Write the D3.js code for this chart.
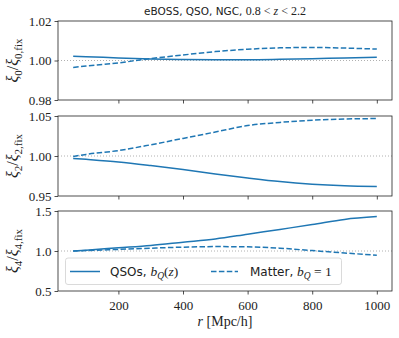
<!DOCTYPE html>
<html><head><meta charset="utf-8">
<script src="https://cdn.jsdelivr.net/npm/d3@7"></script>
<style>body{margin:0;background:#fff}svg{display:block}</style>
</head><body>
<script>
const r = [60,100,200,300,400,500,600,700,800,900,1000];
const xi0_qso = [1.0021,1.0019,1.0013,1.0008,1.0005,1.0004,1.0004,1.0006,1.0009,1.0013,1.0016];
const xi0_mat = [0.9965,0.9972,0.9988,1.0010,1.0028,1.0045,1.0057,1.0064,1.0066,1.0063,1.0058];
const xi2_qso = [0.997,0.9958,0.9925,0.988,0.983,0.9775,0.9725,0.968,0.9648,0.9628,0.9618];
const xi2_mat = [0.9995,1.002,1.0068,1.014,1.022,1.030,1.038,1.042,1.0447,1.0462,1.0468];
const xi4_qso = [1.0,1.01,1.04,1.07,1.11,1.15,1.21,1.27,1.33,1.395,1.43];
const xi4_mat = [1.0,1.005,1.02,1.035,1.048,1.055,1.052,1.035,1.005,0.975,0.948];
const xTicks = [200,400,600,800,1000];
const yDomains = [[0.98,1.02],[0.95,1.05],[0.5,1.5]];
const yTicks = [[0.98,1.00,1.02],[0.95,1.00,1.05],[0.5,1.0,1.5]];
const yFormats = [".2f",".2f",".1f"];
const ell = ["0","2","4"];

const W=399,H=338, L=58, R=392;
const tops=[21,116,211], bots=[100,196,291];
const color="#1f77b4";
const serif="'Liberation Serif', 'DejaVu Serif', serif";
const sans="'DejaVu Sans', sans-serif";

const svg=d3.select("body").append("svg").attr("width",W).attr("height",H);
const x=d3.scaleLinear().domain([13,1047]).range([L,R]);
const series=[[xi0_qso,xi0_mat],[xi2_qso,xi2_mat],[xi4_qso,xi4_mat]];

series.forEach((s,i)=>{
  const y=d3.scaleLinear().domain(yDomains[i]).range([bots[i],tops[i]]);
  const g=svg.append("g");
  g.append("line").attr("x1",L).attr("x2",R).attr("y1",y(1)).attr("y2",y(1))
    .attr("stroke","#b0b0b0").attr("stroke-width",1).attr("stroke-dasharray","1,2");
  const line=d3.line().x((d,j)=>x(r[j])).y(d=>y(d)).curve(d3.curveMonotoneX);
  g.append("path").datum(s[0]).attr("d",line).attr("fill","none").attr("stroke",color).attr("stroke-width",1.5);
  g.append("path").datum(s[1]).attr("d",line).attr("fill","none").attr("stroke",color).attr("stroke-width",1.5).attr("stroke-dasharray","5.5,2.4");
  const xa=g.append("g").attr("transform",`translate(0,${bots[i]})`)
    .call(d3.axisBottom(x).tickValues(xTicks).tickSize(3.5).tickFormat(i==2?d3.format("d"):""));
  xa.select(".domain").remove();
  xa.selectAll("line").attr("stroke","#222").attr("stroke-width",0.8);
  xa.selectAll("text").attr("font-family",serif).attr("font-size",13).attr("fill","#222").attr("dy","0.95em");
  const ya=g.append("g").attr("transform",`translate(${L},0)`)
    .call(d3.axisLeft(y).tickValues(yTicks[i]).tickSize(3.5).tickFormat(d3.format(yFormats[i])));
  ya.select(".domain").remove();
  ya.selectAll("line").attr("stroke","#222").attr("stroke-width",0.8);
  ya.selectAll("text").attr("font-family",serif).attr("font-size",13).attr("fill","#222").attr("dy","0.34em");
  g.append("rect").attr("x",L).attr("y",tops[i]).attr("width",R-L).attr("height",bots[i]-tops[i])
    .attr("fill","none").attr("stroke","#222").attr("stroke-width",0.8);
  const cy=(tops[i]+bots[i])/2;
  const t=g.append("text").attr("transform",`translate(18,${cy}) rotate(-90)`).attr("text-anchor","middle")
    .attr("font-family",serif).attr("font-size",16).attr("fill","#222");
  t.append("tspan").attr("font-style","italic").text("ξ");
  t.append("tspan").attr("font-size",11).attr("dy",3.5).text(ell[i]);
  t.append("tspan").attr("dy",-3.5).text("/");
  t.append("tspan").attr("font-style","italic").text("ξ");
  t.append("tspan").attr("font-size",11).attr("dy",3.5).text(ell[i]+",fix");
});

const tt=svg.append("text").attr("x",(L+R)/2).attr("y",15).attr("text-anchor","middle").attr("font-size",10.5).attr("fill","#222");
tt.append("tspan").attr("font-family",sans).text("eBOSS, QSO, NGC, ");
tt.append("tspan").attr("font-family",serif).attr("font-size",12).text("0.8 < ");
tt.append("tspan").attr("font-family",serif).attr("font-style","italic").attr("font-size",12).text("z");
tt.append("tspan").attr("font-family",serif).attr("font-size",12).text(" < 2.2");

const xl=svg.append("text").attr("x",(L+R)/2).attr("y",326).attr("text-anchor","middle").attr("font-family",serif).attr("font-size",14).attr("fill","#222");
xl.append("tspan").attr("font-style","italic").text("r");
xl.append("tspan").text(" [Mpc/h]");

const lg=svg.append("g");
lg.append("rect").attr("x",65.5).attr("y",258).attr("width",276).attr("height",26.5).attr("rx",2.5)
  .attr("fill","#fff").attr("fill-opacity",0.8).attr("stroke","#d0d0d0").attr("stroke-width",0.8);
const ly=271.5;
lg.append("line").attr("x1",70).attr("x2",100).attr("y1",ly).attr("y2",ly).attr("stroke",color).attr("stroke-width",1.5);
lg.append("line").attr("x1",211).attr("x2",238).attr("y1",ly).attr("y2",ly).attr("stroke",color).attr("stroke-width",1.5).attr("stroke-dasharray","5.5,2.4");
function legText(xp, label, tail){
  const tx=lg.append("text").attr("x",xp).attr("y",ly+4.5).attr("font-size",12).attr("fill","#222");
  tx.append("tspan").attr("font-family",sans).text(label);
  tx.append("tspan").attr("font-family",serif).attr("font-style","italic").attr("font-size",13.5).text("b");
  tx.append("tspan").attr("font-family",serif).attr("font-style","italic").attr("font-size",9.5).attr("dy",2.5).text("Q");
  const p=tx.append("tspan").attr("font-family",serif).attr("font-size",13.5).attr("dy",-2.5);
  if(tail==="z"){ p.text("("); tx.append("tspan").attr("font-family",serif).attr("font-style","italic").attr("font-size",13.5).text("z");
    tx.append("tspan").attr("font-family",serif).attr("font-size",13.5).text(")"); }
  else p.text(" = 1");
}
legText(110,"QSOs, ","z");
legText(250,"Matter, ","1");
</script>
</body></html>
